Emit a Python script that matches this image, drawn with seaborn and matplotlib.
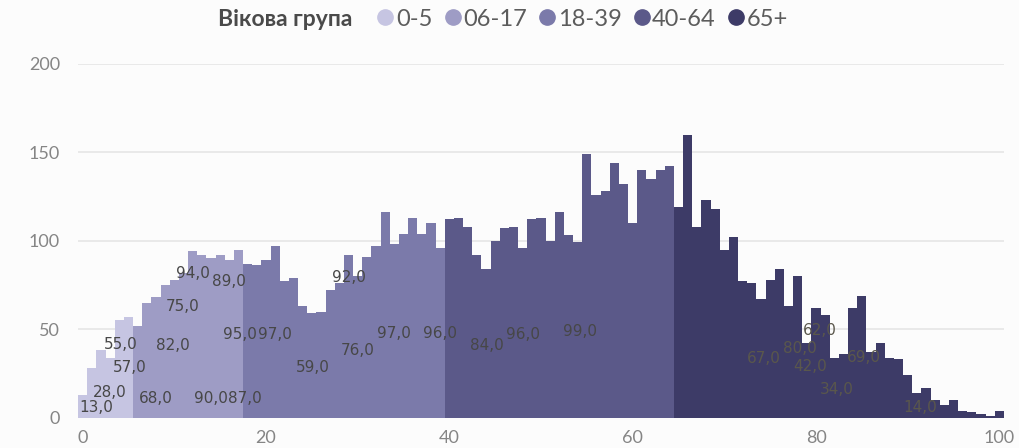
import pandas as pd
import seaborn as sns
import matplotlib.pyplot as plt
from matplotlib.lines import Line2D

# counts per year of age (ages 0..100)
ages = list(range(0, 101))
counts = [
    13, 28, 38, 34, 55, 57,                                  # 0-5
    52, 65, 68, 75, 78, 82, 94, 92, 90, 92, 89, 95,          # 6-17
    87, 86, 89, 97, 77, 79, 63, 59, 60, 72, 76, 92, 80, 91,  # 18-31
    97, 116, 98, 104, 113, 104, 110, 96,                     # 32-39
    112, 113, 108, 92, 84, 100, 107, 108, 96, 112, 113, 100, # 40-51
    116, 103, 99, 149, 126, 128, 144, 132, 110, 140, 135,    # 52-62
    140, 142,                                                # 63-64
    119, 160, 108, 123, 118, 95, 102, 77, 76, 67, 78, 84,    # 65-76
    63, 80, 42, 62, 58, 34, 36, 62, 69, 37, 42, 34, 33, 24,  # 77-90
    14, 17, 10, 7, 10, 4, 3, 2, 1, 4,                        # 91-100
]

groups = ["0-5", "06-17", "18-39", "40-64", "65+"]
group_edges = [5, 17, 39, 64, 200]
colors = ["#c6c5e2", "#9e9cc5", "#7b7aaa", "#5b5989", "#3d3b67"]

# data labels: (age whose value is shown, label x, label y)
label_ages = [0, 1, 4, 5, 8, 11, 9, 12, 16, 14, 18, 17, 21, 25, 28, 29,
              32, 39, 44, 48, 54, 74, 78, 79, 80, 82, 85, 91]
label_x = [1.5, 2.95, 4.2, 5.1, 7.95, 9.85, 10.95, 12.0, 16.0, 14.0, 17.7,
           17.2, 21.0, 25.1, 30.0, 29.0, 34.0, 39.0, 44.1, 48.0, 54.2,
           74.3, 78.2, 79.3, 80.4, 82.3, 85.2, 91.4]
label_y = [5.5, 14.5, 41.6, 28.6, 10.6, 41, 63, 81.7, 76.7, 11.1, 11.1,
           47, 47, 28.4, 37.8, 79.2, 47.3, 47.3, 41, 47.2, 48.6,
           33.2, 39.1, 29.2, 49, 16.2, 34, 5.8]


def group_of(age):
    for g, edge in zip(groups, group_edges):
        if age <= edge:
            return g


df = pd.DataFrame({"age": ages, "count": counts})
df["group"] = [group_of(a) for a in ages]

sns.set_theme(style="white")
plt.rcParams["font.family"] = ["Lato", "DejaVu Sans"]

fig = plt.figure(figsize=(10.19, 4.48), dpi=100, facecolor="#fcfcfc")
ax = fig.add_axes([78 / 1019, 30.3 / 448, 926 / 1019, 354 / 448])
ax.set_facecolor("#fcfcfc")

sns.histplot(data=df, x="age", weights="count", hue="group",
             hue_order=groups, palette=dict(zip(groups, colors)),
             discrete=True, multiple="stack", alpha=1, linewidth=0,
             legend=False, ax=ax)

for a, lx, ly in zip(label_ages, label_x, label_y):
    txt = f"{counts[a]:.1f}".replace(".", ",")
    col = "#5a574c" if a >= 65 else "#474747"
    ax.text(lx, ly, txt, ha="center", va="center", fontsize=11,
            family="DejaVu Sans", color=col)

ax.set_xlim(-0.5, 100.5)
ax.set_ylim(0, 200)
ax.set_xticks([0, 20, 40, 60, 80, 100])
ax.set_yticks([0, 50, 100, 150, 200])
ax.tick_params(axis="both", length=0, labelsize=13, labelcolor="#858585")
ax.tick_params(axis="y", pad=13)
ax.tick_params(axis="x", pad=9)
ax.yaxis.grid(True, color="#e8e8e8", linewidth=1.3)
ax.xaxis.grid(False)
ax.set_axisbelow(True)
ax.set_xlabel("")
ax.set_ylabel("")
sns.despine(ax=ax, left=True, bottom=True)

fig.text(218 / 1019, 1 - 19 / 448, "Вікова група", fontsize=16.5,
         fontweight="bold", color="#4a4a4a", va="center", ha="left")
handles = [Line2D([], [], marker="o", linestyle="", markersize=11,
                  color=c) for c in colors]
leg = fig.legend(handles, groups, loc="center left",
                 bbox_to_anchor=(376 / 1019, 1 - 19 / 448), ncol=5,
                 frameon=False, handlelength=0.8, handletextpad=0.05,
                 columnspacing=0.45, borderaxespad=0, borderpad=0,
                 prop={"size": 17})
for t in leg.get_texts():
    t.set_color("#5c5c5c")

fig.savefig("out.png", dpi=100, facecolor=fig.get_facecolor())
